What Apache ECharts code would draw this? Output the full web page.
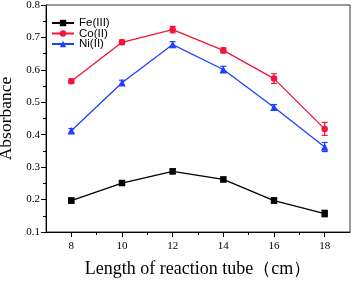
<!DOCTYPE html>
<html><head><meta charset="utf-8">
<script src="https://cdn.jsdelivr.net/npm/echarts@6/dist/echarts.min.js"></script>
<style>html,body{margin:0;padding:0;background:#fff}#c{width:354px;height:282px}</style>
</head><body><div id="c"></div>
<script>
const lengths = [8, 10, 12, 14, 16, 18];
const feValues = [0.197, 0.251, 0.287, 0.262, 0.197, 0.157];
const feErrors = [0.008, 0.006, 0.007, 0.007, 0.008, 0.010];
const coValues = [0.565, 0.685, 0.724, 0.660, 0.573, 0.418];
const coErrors = [0.007, 0.007, 0.010, 0.008, 0.015, 0.020];
const niValues = [0.412, 0.560, 0.678, 0.601, 0.485, 0.362];
const niErrors = [0.007, 0.008, 0.009, 0.010, 0.008, 0.014];
const xMajorTicks = [8, 10, 12, 14, 16, 18];
const xMinorTicks = [9, 11, 13, 15, 17];

const serif = '"Liberation Serif","Times New Roman",serif';
const sans = '"Liberation Sans",Arial,sans-serif';

function pairs(xs, ys){ return xs.map((x,i)=>[x, ys[i]]); }
function errData(xs, ys, es){ return xs.map((x,i)=>[x, ys[i]-es[i], ys[i]+es[i]]); }

function errSeries(name, color, xs, ys, es){
  return {
    type: 'custom', name: name+'err', z: 3, silent: true,
    data: errData(xs, ys, es),
    renderItem: function(params, api){
      const x = api.value(0);
      const lo = api.coord([x, api.value(1)]);
      const hi = api.coord([x, api.value(2)]);
      const w = 3;
      const st = {stroke: color, lineWidth: 1.2};
      return {type:'group', children:[
        {type:'line', shape:{x1:lo[0], y1:lo[1], x2:hi[0], y2:hi[1]}, style: st},
        {type:'line', shape:{x1:lo[0]-w, y1:lo[1], x2:lo[0]+w, y2:lo[1]}, style: st},
        {type:'line', shape:{x1:hi[0]-w, y1:hi[1], x2:hi[0]+w, y2:hi[1]}, style: st}
      ]};
    }
  };
}

const feColor = '#000000', coColor = '#f2143c', niColor = '#2040ff';

const chart = echarts.init(document.getElementById('c'));
chart.setOption({
  animation: false,
  grid: {left: 46, right: 4, top: 5, bottom: 50, containLabel: false, outerBoundsMode: 'none',
    show: true, borderColor: '#333', borderWidth: 1},
  legend: {
    left: 46, top: 12, orient: 'vertical', itemGap: -1.5, itemWidth: 22, itemHeight: 8,
    textStyle: {fontFamily: sans, fontSize: 11.5, lineHeight: 11, color: '#000'},
    data: ['Fe(III)', 'Co(II)', 'Ni(II)']
  },
  xAxis: [{
    type: 'value', min: 7, max: 19,
    name: 'Length of reaction tube（cm）', nameLocation: 'middle', nameGap: 28,
    nameTextStyle: {fontFamily: serif, fontSize: 18, color: '#000'},
    axisLine: {show: true, lineStyle: {color: '#000', width: 1}},
    axisTick: {show: true, length: 5, customValues: xMajorTicks, lineStyle: {color: '#000'}},
    axisLabel: {customValues: xMajorTicks, fontFamily: serif, fontSize: 11, color: '#000', margin: 9},
    splitLine: {show: false}
  }, {
    type: 'value', min: 7, max: 19, position: 'bottom',
    axisLine: {show: false},
    axisTick: {show: true, length: 3, customValues: xMinorTicks, lineStyle: {color: '#000'}},
    axisLabel: {show: false},
    splitLine: {show: false}
  }],
  yAxis: {
    type: 'value', min: 0.1, max: 0.8, interval: 0.1,
    name: 'Absorbance', nameLocation: 'middle', nameGap: 27,
    nameTextStyle: {fontFamily: serif, fontSize: 17.5, color: '#000'},
    axisLine: {show: true, lineStyle: {color: '#000', width: 1}},
    axisTick: {show: true, length: 5, lineStyle: {color: '#000'}},
    minorTick: {show: true, splitNumber: 2, length: 3, lineStyle: {color: '#000'}},
    axisLabel: {fontFamily: serif, fontSize: 11, color: '#000', margin: 6, formatter: v => v.toFixed(1)},
    splitLine: {show: false}
  },
  series: [
    {name: 'Fe(III)', type: 'line', data: pairs(lengths, feValues), symbol: 'rect', symbolSize: 6.5,
      itemStyle: {color: feColor}, lineStyle: {color: feColor, width: 1.3}, z: 4},
    {name: 'Co(II)', type: 'line', data: pairs(lengths, coValues), symbol: 'circle', symbolSize: 6.5,
      itemStyle: {color: coColor}, lineStyle: {color: coColor, width: 1.3}, z: 4},
    {name: 'Ni(II)', type: 'line', data: pairs(lengths, niValues), symbol: 'triangle', symbolSize: 7.5,
      itemStyle: {color: niColor}, lineStyle: {color: niColor, width: 1.3}, z: 4},
    errSeries('Fe(III)', feColor, lengths, feValues, feErrors),
    errSeries('Co(II)', coColor, lengths, coValues, coErrors),
    errSeries('Ni(II)', niColor, lengths, niValues, niErrors)
  ]
});
</script></body></html>
